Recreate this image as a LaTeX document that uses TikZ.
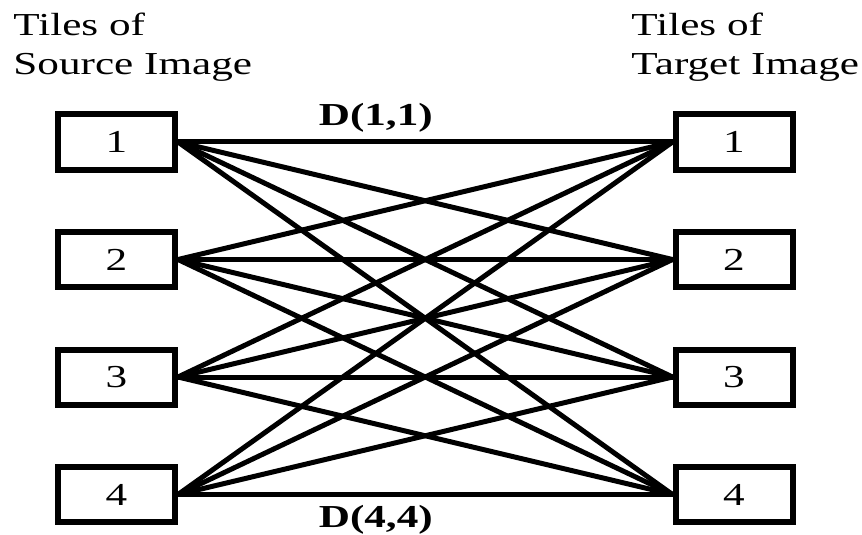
\documentclass[tikz,border=0pt]{standalone}
\usepackage{fontspec}
\setmainfont{Liberation Serif}
\usepackage{graphicx}
\newcommand\widetext[1]{\scalebox{1.35}[1]{#1}}

\begin{document}
\begin{tikzpicture}[
    x=0.5pt,y=-0.5pt,
    tile/.style={draw,line width=3pt,minimum width=58.5pt,minimum height=27.5pt,
        inner sep=0pt,font=\fontsize{16}{19.5}\selectfont},
    link/.style={line width=2.5pt},
    heading/.style={anchor=north west,inner sep=0pt,align=left,
        font=\fontsize{16}{19.5}\selectfont},
    cost/.style={font=\bfseries\fontsize{16}{19.5}\selectfont}
]
\useasboundingbox (0,0) rectangle (862,535);
\node[heading] (srctitle) at (13,13) {\widetext{Tiles of}\\\widetext{Source Image}};
\node[heading] (tgttitle) at (631,13) {\widetext{Tiles of}\\\widetext{Target Image}};
\foreach \i in {1,...,4}{
    \node[tile] (src\i) at (116.5,{142+117.5*(\i-1)}) {\widetext{\i}};
    \node[tile] (tgt\i) at (734,{142+117.5*(\i-1)}) {\widetext{\i}};
}
\foreach \i in {1,...,4}{
    \foreach \j in {1,...,4}{
        \draw[link] (src\i.east) -- (tgt\j.west);
    }
}
\path (src1.east) -- node[cost,above=1.5pt,pos=0.4] (d11) {\widetext{D(1,1)}} (tgt1.west);
\path (src4.east) -- node[cost,below=2pt,pos=0.4] (d44) {\widetext{D(4,4)}} (tgt4.west);
\end{tikzpicture}
\end{document}
